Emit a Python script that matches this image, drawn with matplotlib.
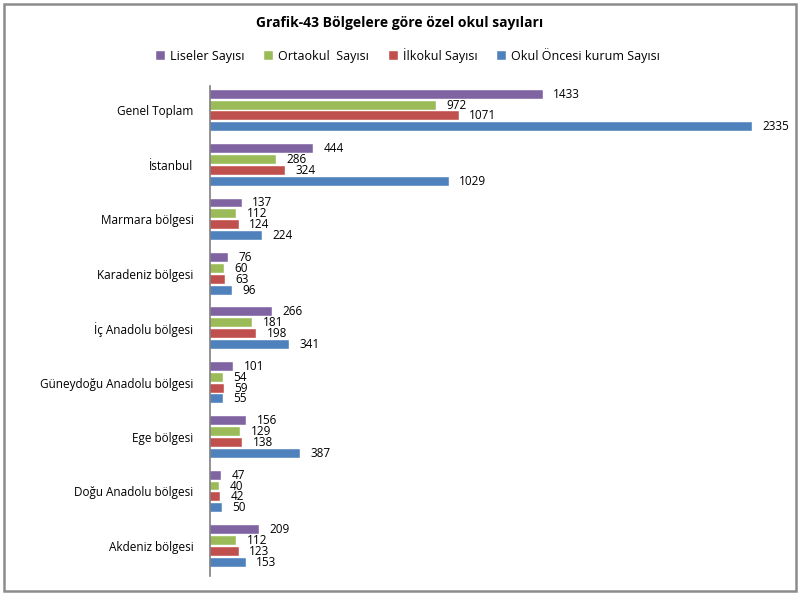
import numpy as np
import matplotlib.pyplot as plt
from matplotlib.patches import Rectangle

plt.rcParams['font.family'] = ['Open Sans', 'DejaVu Sans']

regions = ['Genel Toplam', 'İstanbul', 'Marmara bölgesi', 'Karadeniz bölgesi',
           'İç Anadolu bölgesi', 'Güneydoğu Anadolu bölgesi', 'Ege bölgesi',
           'Doğu Anadolu bölgesi', 'Akdeniz bölgesi']
lise = [1433, 444, 137, 76, 266, 101, 156, 47, 209]
ortaokul = [972, 286, 112, 60, 181, 54, 129, 40, 112]
ilkokul = [1071, 324, 124, 63, 198, 59, 138, 42, 123]
okul_oncesi = [2335, 1029, 224, 96, 341, 55, 387, 50, 153]

series = [('Liseler Sayısı', lise, '#8064A2'),
          ('Ortaokul  Sayısı', ortaokul, '#9BBB59'),
          ('İlkokul Sayısı', ilkokul, '#C0504D'),
          ('Okul Öncesi kurum Sayısı', okul_oncesi, '#4F81BD')]

fig = plt.figure(figsize=(8, 5.93), dpi=100)
ax = fig.add_axes([0.2625, 0.029, 0.7125, 0.826])

y = np.arange(len(regions))
offsets = [-0.3, -0.1, 0.1, 0.3]
for (name, vals, col), off in zip(series, offsets):
    bars = ax.barh(y + off, vals, height=0.165, color=col, label=name,
                   edgecolor='white', linewidth=0.3)
    for b, v in zip(bars, vals):
        ax.text(b.get_width() + 45, b.get_y() + b.get_height() / 2, str(v),
                va='center', ha='left', fontsize=8.5, color='black')

ax.set_xlim(0, 2455)
ax.set_ylim(8.55, -0.45)
ax.set_yticks(y)
ax.set_yticklabels(regions, fontsize=8.5)
ax.tick_params(axis='y', length=0, pad=12)
ax.set_xticks([])
for s in ['top', 'right', 'bottom']:
    ax.spines[s].set_visible(False)
ax.spines['left'].set_color('#7f7f7f')
ax.spines['left'].set_linewidth(1.2)

fig.text(0.5, 0.962, 'Grafik-43 Bölgelere göre özel okul sayıları',
         ha='center', va='center', fontsize=10, fontweight='bold')
fig.legend(loc='center', bbox_to_anchor=(0.51, 0.907), ncol=4, frameon=False,
           fontsize=9, handlelength=0.7, handleheight=0.7, handletextpad=0.4,
           columnspacing=1.6)

fig.patches.append(Rectangle((0.005, 0.003), 0.99, 0.99, transform=fig.transFigure,
                             fill=False, edgecolor='#8c8c8c', linewidth=1.8))

fig.savefig('out.png', dpi=100)
